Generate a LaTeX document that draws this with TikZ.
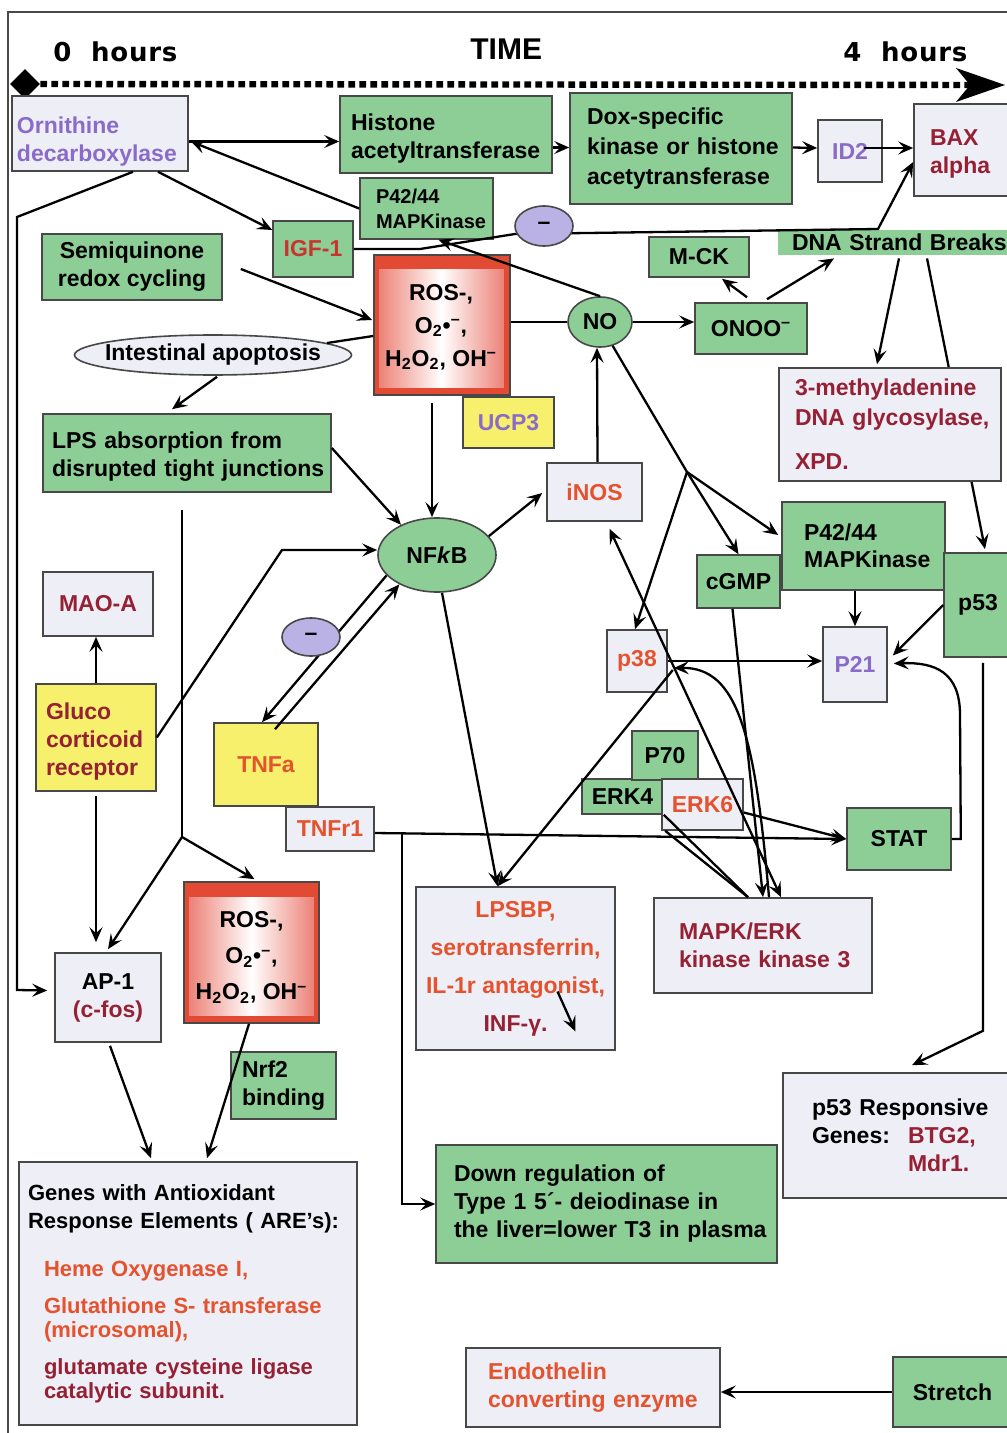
\documentclass[tikz,border=0pt]{standalone}
\usepackage{fontspec}
\setmainfont{Liberation Sans}
\newfontfamily\hdrfont{DejaVu Sans}[LetterSpace=3]
\usetikzlibrary{arrows.meta,shapes.geometric,backgrounds}
\definecolor{gfill}{RGB}{140,206,150}
\definecolor{lfill}{RGB}{237,238,246}
\definecolor{yfill}{RGB}{246,240,108}
\definecolor{purp}{RGB}{138,108,200}
\definecolor{dred}{RGB}{150,32,52}
\definecolor{ored}{RGB}{228,82,46}
\definecolor{igfred}{RGB}{200,52,48}
\definecolor{bordc}{RGB}{72,72,72}
\definecolor{minusc}{RGB}{186,178,228}
\definecolor{rosout}{RGB}{226,74,52}
\definecolor{rosin}{RGB}{236,130,120}
\newcommand\bodyfont{\fontsize{11.5}{14}\selectfont\bfseries}
\newcommand\smallbody{\fontsize{10}{12.5}\selectfont\bfseries}
\newcommand\cbx[7]{%
 \pgfmathsetmacro\bxW{(#5-#3)*0.5}\pgfmathsetmacro\bxH{(#6-#4)*0.5}%
 \node[#2, minimum width=\bxW pt, minimum height=\bxH pt, align=center] (#1) at ({(#3+#5)/2},{(#4+#6)/2}) {#7};}
\newcommand\lbx[8]{%
 \pgfmathsetmacro\bxT{(#5-#3-2*#7)*0.5}\pgfmathsetmacro\bxH{(#6-#4)*0.5}\pgfmathsetmacro\bxP{#7*0.5}%
 \node[#2, text width=\bxT pt, inner xsep=\bxP pt, minimum height=\bxH pt, align=left] (#1) at ({(#3+#5)/2},{(#4+#6)/2}) {#8};}
\tikzset{
 mytip/.tip={Stealth[length=7.5pt,width=6.5pt,inset=3pt]},
 bx/.style={draw=bordc, line width=0.8pt, inner sep=0pt, font=\bodyfont, text=black,
   execute at begin node={\hyphenpenalty=10000\exhyphenpenalty=10000}},
 gbox/.style={bx, fill=gfill},
 lbox/.style={bx, fill=lfill},
 ybox/.style={bx, fill=yfill},
 conn/.style={draw=black, line width=1.15pt, -mytip},
 bothconn/.style={draw=black, line width=1.15pt, mytip-mytip},
 wire/.style={draw=black, line width=1.15pt},
 minusell/.style={ellipse, draw=bordc, line width=0.8pt, fill=minusc, inner sep=0pt, font=\bodyfont},
 hdr/.style={anchor=base west, inner sep=0pt},
}
\begin{document}
\begin{tikzpicture}[x=0.5pt,y=-0.5pt]
\begin{pgfonlayer}{background}
\fill[white] (0,0) rectangle (1006,1433);
\end{pgfonlayer}
\useasboundingbox (0,0) rectangle (1006,1433);
% frame
\draw[bordc, line width=1pt] (8,1440) -- (8,12) -- (1012,12);
% header
\node[hdr, font={\hdrfont\bfseries\fontsize{13}{15}\selectfont}] (h0) at (53,62) {0\ \ hours};
\node[hdr, font={\bfseries\fontsize{15}{16}\selectfont}] (tm) at (470,60) {TIME};
\node[hdr, font={\hdrfont\bfseries\fontsize{13}{15}\selectfont}] (h4) at (843,62) {4\ \ hours};
% time axis
\node[diamond, fill=black, minimum width=15pt, minimum height=15pt, inner sep=0pt] (dia) at (25,84) {};
\coordinate (axend) at (984,85);
\draw[line width=3.2pt, dash pattern=on 3.3pt off 2.2pt] (dia.east) -- (axend);
\fill (956,68) -- (1005,85) -- (956,102) -- (970,85) -- cycle;
% boxes
\lbx{Orn}{lbox,text=purp}{12}{96}{188}{171}{5}{\rule{0pt}{16pt}Ornithine\\decarboxylase}
\lbx{Hist}{gbox}{340}{96}{552}{173}{11}{\rule{0pt}{12pt}Histone\\acetyltransferase}
\lbx{Dox}{gbox,font=\fontsize{11.5}{15}\selectfont\bfseries}{570}{93}{792}{204}{17}{Dox-specific\\kinase~or~histone\\acetytransferase}
\cbx{ID2}{lbox,text=purp}{818}{120}{882}{182}{ID2}
\lbx{BAX}{lbox,text=dred}{914}{104}{1012}{196}{16}{\rule{0pt}{12pt}BAX\\alpha}
\lbx{P42t}{gbox,font=\smallbody}{360}{178}{493}{239}{16}{P42/44\\MAPKinase}
\cbx{IGF1}{gbox,text=igfred}{273}{221}{353}{277}{IGF-1}
\cbx{Semi}{gbox}{42}{234}{222}{300}{Semiquinone\\redox cycling}
\cbx{ROSa}{bx,fill=rosout}{374}{255}{510}{395}{}
\node[ellipse, bx, fill=lfill, minimum width=138.5pt, minimum height=20pt] (Intest) at (213,355) {\makebox[0pt]{Intestinal apoptosis}};
\lbx{LPS}{gbox}{43}{414}{331}{492}{9}{\rule{0pt}{12pt}LPS~absorption~from\\disrupted~tight~junctions}
\cbx{UCP3}{ybox,text=purp}{463}{397}{554}{448}{UCP3}
\node[ellipse, bx, fill=gfill, minimum width=32pt, minimum height=25pt] (NO) at (600,322) {NO};
\cbx{ONOO}{gbox}{695}{303}{807}{354}{ONOO\textsuperscript{–}}
\cbx{MCK}{gbox}{649}{237}{749}{277}{M-CK}
\lbx{DNA}{fill=gfill,inner sep=0pt,font=\bodyfont}{778}{230}{1030}{255}{14}{DNA~Strand~Breaks}
\lbx{Meth}{lbox,text=dred,font=\fontsize{11.5}{15}\selectfont\bfseries}{779}{368}{1001}{481}{16}{3-methyladenine\\DNA~glycosylase,\\[7pt]XPD.}
\cbx{iNOS}{lbox,text=ored}{547}{463}{642}{521}{iNOS}
\node[ellipse, bx, fill=gfill, minimum width=59pt, minimum height=37pt] (NFkB) at (437,555) {NF\textit{k}B};
\lbx{P42l}{gbox,font=\fontsize{11.5}{13.5}\selectfont\bfseries}{782}{502}{945}{590}{22}{P42/44\\MAPKinase}
\cbx{cGMP}{gbox}{697}{555}{780}{608}{cGMP}
\cbx{p53}{gbox}{944}{553}{1012}{657}{p53}
\cbx{P21}{lbox,text=purp}{823}{627}{887}{702}{P21}
\cbx{p38}{lbox,text=ored}{607}{630}{667}{692}{p38}
\cbx{MAO}{lbox,text=dred}{43}{572}{153}{636}{MAO-A}
\lbx{Gluco}{ybox,text=dred}{36}{684}{156}{791}{10}{\rule{0pt}{12pt}Gluco\\corticoid\\receptor}
\cbx{TNFa}{ybox,text=ored}{214}{723}{318}{806}{TNFa}
\cbx{TNFr1}{lbox,text=ored}{286}{807}{374}{851}{TNFr1}
\cbx{ERK4}{gbox}{582}{779}{663}{814}{\raisebox{-3pt}{ERK4}}
\cbx{P70}{gbox}{632}{731}{698}{780}{P70}
\cbx{ERK6}{lbox,text=ored}{662}{779}{743}{830}{ERK6}
\cbx{STAT}{gbox}{847}{808}{951}{870}{STAT}
\cbx{LPSBP}{lbox,text=ored,font=\fontsize{11.5}{19}\selectfont\bfseries}{416}{887}{615}{1050}{LPSBP,\\serotransferrin,\\IL-1r antagonist,\\\textcolor{dred}{INF-γ.}}
\lbx{MAPK}{lbox,text=dred}{654}{898}{872}{993}{25}{MAPK/ERK\\kinase~kinase~3}
\cbx{AP1}{lbox}{55}{953}{161}{1042}{AP-1\\\textcolor{dred}{(c-fos)}}
\cbx{ROSb}{bx,fill=rosout}{184}{882}{319}{1023}{}
\lbx{Nrf2}{gbox}{231}{1052}{336}{1119}{11}{Nrf2\\binding}
\lbx{Genes}{lbox,font=\fontsize{11}{12}\selectfont\bfseries}{19}{1162}{357}{1425}{9}{Genes~with~Antioxidant\\[2pt]Response~Elements~(~ARE's):\\[12pt]\hspace*{8pt}\textcolor{ored}{Heme~Oxygenase~I,}\\[6.5pt]\hspace*{8pt}\textcolor{ored}{Glutathione~S-~transferase}\\\hspace*{8pt}\textcolor{ored}{(microsomal),}\\[6.5pt]\hspace*{8pt}\textcolor{dred}{glutamate~cysteine~ligase}\\\hspace*{8pt}\textcolor{dred}{catalytic~subunit.}}
\lbx{Down}{gbox}{436}{1145}{777}{1263}{18}{Down~regulation~of\\Type~1~5´-~deiodinase~in\\the~liver=lower~T3~in~plasma}
\lbx{p53r}{lbox}{783}{1073}{1030}{1198}{29}{p53~Responsive\\\makebox[48pt][l]{Genes:}\textcolor{dred}{BTG2,}\\\hspace*{48pt}\textcolor{dred}{Mdr1.}}
\lbx{Endo}{lbox,text=ored}{466}{1348}{720}{1427}{22}{Endothelin\\converting~enzyme}
\cbx{Stretch}{gbox}{893}{1357}{1012}{1427}{Stretch}
% ROS insides
\shade[left color=rosin, right color=rosin, middle color=white] ([shift={(6,15)}]ROSa.north west) rectangle ([shift={(-7,-8)}]ROSa.south east);
\node[font=\fontsize{11.5}{16.5}\selectfont\bfseries, align=center] (ROSaT) at ([shift={(-1,2)}]ROSa.center) {ROS-,\\O\textsubscript{2}\textbullet\textsuperscript{–},\\H\textsubscript{2}O\textsubscript{2}, OH\textsuperscript{–}};
\shade[left color=rosin, right color=rosin, middle color=white] ([shift={(6,16)}]ROSb.north west) rectangle ([shift={(-6,-8)}]ROSb.south east);
\node[font=\fontsize{11.5}{18}\selectfont\bfseries, align=center] (ROSbT) at ([shift={(0,5)}]ROSb.center) {ROS-,\\O\textsubscript{2}\textbullet\textsuperscript{–},\\H\textsubscript{2}O\textsubscript{2}, OH\textsuperscript{–}};
% connectors
\draw[conn] ([shift={(0,8)}]Orn.east) -- ([shift={(0,7)}]Hist.west);
\draw[conn] (P42t.west) -- ([shift={(2,8)}]Orn.east);
\draw[conn] ([shift={(58,0)}]Orn.south) -- ([shift={(0,-19)}]IGF1.west);
\draw[conn] ([shift={(0,13)}]Hist.east) -- ([shift={(0,-1)}]Dox.west);
\draw[conn] ([shift={(0,-1)}]Dox.east) -- ([shift={(0,-3)}]ID2.west);
\draw[conn] ([shift={(-19,-3)}]ID2.east) -- ([shift={(0,-2)}]BAX.west);
\draw[conn] (IGF1.east) -- (420,249) -- (515,234) -- (878,229) -- ([shift={(0,12)}]BAX.west);
\draw[conn] ([shift={(18,2)}]Semi.east) -- ([shift={(-1,-5)}]ROSa.west);
\draw[wire] ([shift={(0,11)}]ROSa.west) -- (Intest.6);
\draw[conn] ([shift={(4,1)}]Intest.south) -- ([shift={(-15,-4)}]LPS.north);
\draw[conn] ([shift={(-10,7)}]ROSa.south) -- ([xshift=-2.5pt]NFkB.north);
\draw[conn] ([shift={(0,-5)}]LPS.east) -- (NFkB.140);
\draw[conn] (NFkB.20) -- ([shift={(-4,1)}]iNOS.west);
\draw[conn] ([shift={(3,0)}]iNOS.north) -- ([shift={(-3,0)}]NO.south);
\draw[wire] (ROSa.east |- NO.west) -- (NO.west);
\draw[conn] (NO.east) -- (NO.east -| ONOO.west);
\draw[conn] (NO.north) -- ([shift={(12,0)}]P42t.south);
\draw[conn] ([shift={(-4,-5)}]ONOO.north) -- ([shift={(23,1)}]MCK.south);
\draw[conn] ([shift={(16,-3)}]ONOO.north) -- ([shift={(-70,3)}]DNA.south);
\draw[conn] ([shift={(-5,3)}]DNA.south) -- ([shift={(-13,-3)}]Meth.north);
\coordinate (fan) at (687,472);
\draw[wire] (NO.-62) -- (fan);
\draw[conn] (fan) -- ([xshift=-1pt]p38.north);
\draw[conn] (fan) -- (cGMP.north);
\draw[conn] (fan) -- ([shift={(-3,-11)}]P42l.west);
\draw[conn] (P21.north |- P42l.south) -- (P21.north);
\draw[conn] (p53.west) -- ([shift={(5,-9)}]P21.east);
\draw[conn] (p38.east) -- (p38.east -| P21.west);
\draw[conn] (STAT.east) -- ++(9,0) -- (960,715) .. controls (960,672) and (935,662) .. ([shift={(6,-1)}]P21.east);
\draw[conn] ([xshift=3pt]MAPK.north) .. controls (755,735) and (738,667) .. ([shift={(6,7)}]p38.east);
\draw[conn] ([xshift=-3pt]cGMP.south) -- (MAPK.north);
\draw[bothconn] ([xshift=9pt]MAPK.north) -- ([shift={(15,7)}]iNOS.south);
\draw[wire] (ERK4.south east) -- ([xshift=-7.5pt]MAPK.north);
\draw[wire] ([shift={(4,0)}]ERK6.south west) -- ([xshift=-7.5pt]MAPK.north);
\draw[conn] ([shift={(0,8)}]ERK6.east) -- (STAT.west);
\draw[conn] ([shift={(0,4)}]TNFr1.east) -- (STAT.west);
\coordinate (br) at (402,834);
\draw[conn] (br) -- (br |- Down.west) -- (Down.west);
\draw[conn] ([shift={(5,9)}]p38.east) -- ([xshift=-9pt]LPSBP.north);
\draw[conn] ([xshift=2.5pt]NFkB.south) -- ([xshift=-9pt]LPSBP.north);
\draw[conn] ([shift={(42,23)}]LPSBP.center) -- ([shift={(60,63)}]LPSBP.center);
\draw[conn] (Gluco.north) -- (Gluco.north |- MAO.south);
\draw[conn] (Gluco.east) -- (282,550) -- ([yshift=2.5pt]NFkB.west);
\coordinate (sp) at (182,837);
\draw[wire] ([shift={(-5,17)}]LPS.south) -- (sp);
\draw[conn] (sp) -- ([shift={(0,-3)}]AP1.north);
\draw[conn] (sp) -- ([shift={(3,-2)}]ROSb.north);
\draw[conn] ([shift={(0,4)}]Gluco.south) -- ([shift={(-12,-10)}]AP1.north);
\draw[conn] ([shift={(33,0)}]Orn.south) -- (17,217) -- (17,990) -- ([shift={(-7,-7)}]AP1.west);
\draw[conn] ([shift={(9,7)}]TNFa.north) -- (NFkB.218);
\draw[conn] ([shift={(2,3)}]AP1.south) -- ([shift={(-37,-3)}]Genes.north);
\draw[conn] ([shift={(-2.5,0)}]ROSb.south) -- ([shift={(19,-3)}]Genes.north);
\draw[conn] ([shift={(5,5)}]p53.south) -- ++(0,368) -- ([shift={(5.5,-7)}]p53r.north);
\draw[conn] (Stretch.west) -- (Stretch.west -| Endo.east);
% inhibition ellipses
\node[minusell, minimum width=29pt, minimum height=20pt] (minusT) at (544,226) {–};
\node[minusell, minimum width=29pt, minimum height=19pt] (minusL) at (311,637) {–};
% lines running behind boxes
\begin{pgfonlayer}{background}
\draw[conn] ([shift={(23,3)}]DNA.south) -- ([shift={(7,-3)}]p53.north);
\draw[conn] (NFkB.202) -- ([xshift=-2pt]TNFa.north);
\end{pgfonlayer}
\end{tikzpicture}
\end{document}
